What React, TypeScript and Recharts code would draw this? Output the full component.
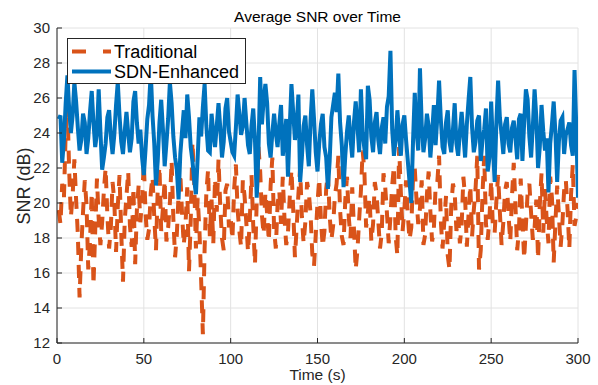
import React from 'react';
import { LineChart, Line, XAxis, YAxis, CartesianGrid } from 'recharts';

const FONT = '"Liberation Sans", Arial, Helvetica, sans-serif';
const AXIS_COLOR = '#262626';

const chartTitle = 'Average SNR over Time';
const xLabel = 'Time (s)';
const yLabel = 'SNR (dB)';
const seriesNames = ['Traditional', 'SDN-Enhanced'];
const seriesColors = ['#D95319', '#0072BD'];

const xTicks = [0, 50, 100, 150, 200, 250, 300];
const yTicks = [12, 14, 16, 18, 20, 22, 24, 26, 28, 30];

const timeSteps = Array.from({ length: 300 }, (_, i) => i + 1);

const traditional = [
  19.6, 18.8, 21.1, 20.3, 24.0, 25.6, 21.9, 19.2, 20.4, 22.5,
  20.2, 18.2, 14.6, 17.5, 19.5, 21.3, 19.9, 16.2, 17.8, 20.6,
  15.3, 18.4, 21.4, 19.1, 17.6, 18.9, 20.7, 22.0, 19.3, 17.4,
  18.6, 21.2, 20.1, 17.2, 19.8, 21.6, 18.3, 15.5, 19.0, 20.4,
  21.8, 18.7, 17.5, 20.9, 16.5, 19.6, 21.0, 18.9, 20.2, 22.3,
  19.4, 17.9, 18.5, 20.6, 21.5, 19.2, 17.3, 20.8, 22.1, 18.4,
  19.7, 21.3, 17.8, 18.6, 20.0, 22.4, 19.1, 16.9, 18.2, 20.5,
  21.7, 19.4, 17.6, 18.8, 20.9, 16.1, 19.0, 23.5, 21.2, 17.4,
  20.3, 18.5, 15.6, 12.5, 17.4, 20.6, 21.9, 18.1, 20.2, 17.7,
  21.4, 19.5, 22.5, 19.8, 18.0, 17.3, 20.7, 21.1, 18.6, 19.2,
  17.9, 20.8, 22.2, 19.6, 18.4, 17.5, 21.3, 20.4, 18.9, 17.2,
  19.0, 21.6, 18.7, 16.5, 20.1, 23.2, 21.8, 19.3, 18.2, 20.6,
  19.4, 17.8, 21.0, 22.6, 18.5, 17.4, 19.9, 20.7, 18.8, 21.5,
  19.1, 17.6, 18.3, 20.3, 21.9, 19.7, 16.9, 18.6, 20.5, 22.0,
  19.2, 17.7, 18.9, 21.2, 20.6, 19.4, 17.1, 16.4, 18.2, 20.0,
  21.4, 19.0, 17.5, 18.4, 20.8, 21.7, 19.3, 17.9, 18.7, 20.4,
  21.1, 22.7, 19.6, 18.1, 17.6, 20.2, 21.5, 19.2, 18.0, 20.9,
  18.5, 16.2, 17.3, 19.1, 20.7, 23.0, 21.8, 18.6, 19.5, 20.3,
  17.8, 18.8, 21.2, 20.5, 19.0, 17.4, 18.3, 21.7, 20.9, 19.4,
  17.7, 19.2, 21.0, 22.1, 18.1, 17.0, 23.2, 20.6, 18.4, 19.6,
  21.3, 19.3, 17.9, 18.6, 21.4, 22.0, 20.2, 18.8, 19.7, 21.3,
  17.6, 18.2, 20.5, 21.8, 19.5, 17.8, 18.5, 20.9, 21.2, 22.7,
  19.0, 17.4, 18.9, 20.4, 17.0, 16.2, 19.8, 21.1, 20.6, 18.4,
  19.2, 17.7, 18.7, 21.5, 20.3, 17.5, 19.4, 21.0, 18.1, 19.6,
  20.8, 22.7, 16.2, 17.3, 20.5, 22.7, 18.8, 17.9, 19.1, 21.3,
  18.6, 18.3, 20.1, 21.6, 19.5, 17.6, 18.9, 20.7, 21.2, 19.3,
  17.8, 20.4, 22.3, 19.8, 17.3, 18.5, 21.4, 19.0, 16.8, 18.7,
  20.6, 21.1, 19.4, 17.9, 18.6, 20.2, 16.8, 19.9, 21.7, 18.3,
  20.8, 19.0, 17.7, 21.5, 20.3, 16.6, 18.9, 21.0, 19.3, 17.5,
  18.8, 20.7, 21.3, 19.6, 17.4, 20.5, 22.2, 18.7, 19.2, 20.0,
];

const sdnEnhanced = [
  24.8, 25.0, 22.3, 23.6, 25.7, 27.3, 25.4, 24.0, 25.0, 26.9,
  25.8, 24.3, 23.0, 23.6, 25.1, 24.6, 22.8, 23.7, 25.2, 26.4,
  24.6, 23.2, 24.0, 26.5, 24.1, 21.9, 22.6, 23.4, 24.9, 25.3,
  23.8, 22.8, 23.9, 25.6, 26.9, 25.0, 23.5, 22.8, 24.1, 25.2,
  24.0, 22.9, 23.7, 25.8, 26.4, 24.6, 23.4, 24.2, 22.6, 21.6,
  23.1, 24.8, 25.6, 27.5, 25.0, 23.4, 21.0, 22.4, 24.6, 25.9,
  24.2, 22.1, 23.4, 24.8, 26.9, 25.7, 23.8, 22.6, 21.9, 20.2,
  22.8, 24.1, 25.3, 23.7, 26.2, 24.9, 23.2, 22.4, 21.3, 20.5,
  22.6, 24.9, 23.8, 25.5, 26.8, 24.4, 23.0, 22.9, 25.1, 24.0,
  23.2, 24.4, 25.7, 24.3, 22.6, 23.5, 25.4, 26.0, 24.1, 23.5,
  22.9, 22.7, 24.3, 26.2, 25.1, 23.9, 24.4, 26.0, 24.6, 23.3,
  22.8, 24.4, 25.4, 23.6, 20.3, 23.0, 27.2, 24.5, 25.9, 26.8,
  25.7, 23.4, 22.6, 24.0, 25.1, 24.0, 23.2, 24.5, 25.6, 22.7,
  23.6, 24.8, 21.5, 24.3, 26.8, 25.2, 23.6, 24.5, 26.2, 21.2,
  22.6, 24.4, 25.0, 23.3, 22.1, 24.7, 26.5, 24.8, 22.9, 21.8,
  23.4, 24.5, 25.1, 23.2, 22.6, 20.8, 22.4, 24.9, 25.6, 26.3,
  25.2, 27.4, 24.6, 23.3, 20.9, 22.7, 24.1, 25.0, 23.7, 22.6,
  24.6, 25.8, 24.4, 22.9, 26.5, 24.0, 23.1, 22.5, 26.7, 25.9,
  23.8, 22.9, 24.6, 25.2, 23.6, 22.8, 24.3, 24.9, 23.4, 25.5,
  26.1, 28.7, 24.2, 22.7, 23.6, 25.3, 23.9, 22.7, 24.5, 25.0,
  23.6, 22.4, 21.2, 20.0, 23.5, 26.3, 24.2, 23.0, 27.7, 24.5,
  22.9, 23.7, 25.1, 24.4, 22.6, 24.0, 25.6, 23.3, 24.9, 27.0,
  24.8, 23.2, 22.8, 24.6, 25.3, 23.5, 22.9, 24.2, 25.7, 23.4,
  22.7, 24.1, 25.2, 23.9, 22.6, 24.5, 25.9, 27.2, 24.3, 22.9,
  23.5, 24.7, 25.0, 22.4, 23.6, 24.2, 25.4, 21.8, 22.6, 25.8,
  23.3, 21.2, 24.6, 27.0, 24.9, 23.9, 22.8, 24.5, 24.9, 23.4,
  22.9, 24.3, 24.7, 23.7, 22.5, 24.8, 25.1, 22.4, 24.6, 26.5,
  25.9, 23.8, 22.6, 24.4, 26.5, 24.9, 22.0, 23.2, 25.6, 24.1,
  23.0, 23.7, 20.6, 23.4, 24.5, 25.8, 24.0, 21.2, 23.5, 24.7,
  24.9, 22.8, 23.9, 24.2, 24.6, 23.3, 22.7, 27.6, 24.4, 20.3,
];

const data = timeSteps.map((t, i) => ({
  t,
  traditional: traditional[i],
  sdn: sdnEnhanced[i],
}));

const tickStyle = { fill: AXIS_COLOR, fontSize: 15, fontFamily: FONT };

export default function App() {
  return (
    <div
      style={{
        position: 'absolute',
        left: 0,
        top: 0,
        width: 598,
        height: 385,
        background: '#fff',
        fontFamily: FONT,
      }}
    >
      <LineChart
        width={598}
        height={385}
        data={data}
        margin={{ top: 28, right: 20, bottom: 0, left: 0 }}
      >
        <CartesianGrid xAxisId="b" yAxisId="l" stroke="#e2e2e2" strokeWidth={1} />
        <XAxis
          xAxisId="b"
          dataKey="t"
          type="number"
          domain={[0, 300]}
          ticks={xTicks}
          interval={0}
          height={42}
          tickSize={-5}
          tickMargin={15}
          stroke={AXIS_COLOR}
          tick={tickStyle}
          allowDataOverflow
        />
        <XAxis
          xAxisId="t"
          orientation="top"
          dataKey="t"
          type="number"
          domain={[0, 300]}
          ticks={xTicks}
          interval={0}
          height={0}
          tickSize={-5}
          tick={false}
          stroke={AXIS_COLOR}
          allowDataOverflow
        />
        <YAxis
          yAxisId="l"
          type="number"
          domain={[12, 30]}
          ticks={yTicks}
          interval={0}
          width={57}
          tickSize={-5}
          tickMargin={12}
          stroke={AXIS_COLOR}
          tick={tickStyle}
          allowDataOverflow
        />
        <YAxis
          yAxisId="r"
          orientation="right"
          type="number"
          domain={[12, 30]}
          ticks={yTicks}
          interval={0}
          width={0}
          tickSize={-5}
          tick={false}
          stroke={AXIS_COLOR}
          allowDataOverflow
        />
        <Line
          xAxisId="b"
          yAxisId="l"
          type="linear"
          dataKey="traditional"
          name={seriesNames[0]}
          stroke={seriesColors[0]}
          strokeWidth={4}
          strokeDasharray="13 10"
          dot={false}
          activeDot={false}
          isAnimationActive={false}
        />
        <Line
          xAxisId="b"
          yAxisId="l"
          type="linear"
          dataKey="sdn"
          name={seriesNames[1]}
          stroke={seriesColors[1]}
          strokeWidth={4}
          dot={false}
          activeDot={false}
          isAnimationActive={false}
        />
      </LineChart>

      <svg
        width={598}
        height={385}
        style={{ position: 'absolute', left: 0, top: 0, pointerEvents: 'none' }}
      >
        <text x={317.5} y={21.5} textAnchor="middle" fontSize={15.5} fill="#000" fontFamily={FONT}>
          {chartTitle}
        </text>
        <text x={317.5} y={380} textAnchor="middle" fontSize={15.5} fill={AXIS_COLOR} fontFamily={FONT}>
          {xLabel}
        </text>
        <text
          x={0}
          y={0}
          transform="translate(30 186) rotate(-90)"
          textAnchor="middle"
          fontSize={18}
          fill={AXIS_COLOR}
          fontFamily={FONT}
        >
          {yLabel}
        </text>
        <g>
          <rect x={67.5} y={38.5} width={178} height={45} fill="#fff" stroke={AXIS_COLOR} strokeWidth={1} />
          <line x1={72} y1={51.5} x2={111} y2={51.5} stroke={seriesColors[0]} strokeWidth={4} strokeDasharray="14 17" />
          <text x={114} y={57.8} fontSize={18} fill="#000" fontFamily={FONT}>
            {seriesNames[0]}
          </text>
          <line x1={72} y1={71.5} x2={111} y2={71.5} stroke={seriesColors[1]} strokeWidth={4} />
          <text x={114} y={78} fontSize={18} fill="#000" fontFamily={FONT}>
            {seriesNames[1]}
          </text>
        </g>
      </svg>
    </div>
  );
}
